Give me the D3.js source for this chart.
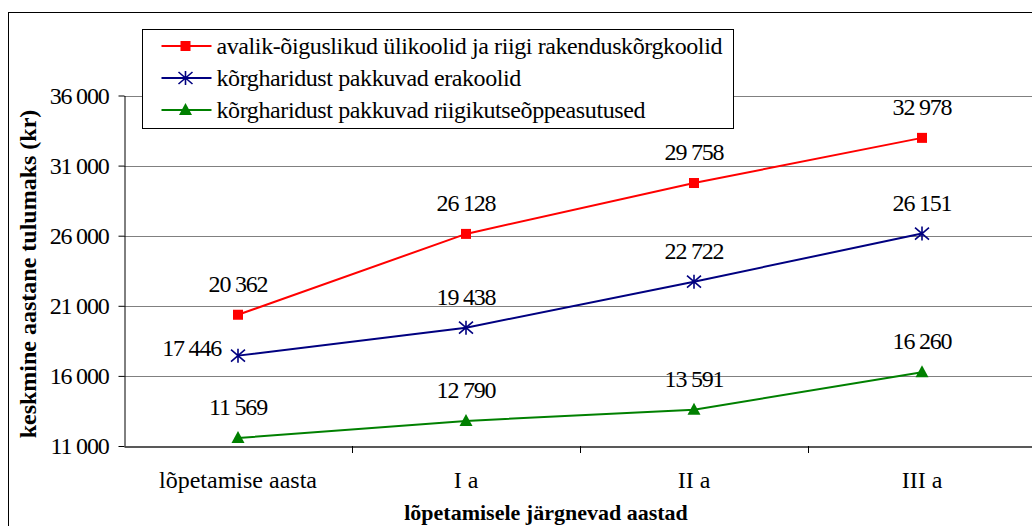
<!DOCTYPE html>
<html>
<head>
<meta charset="utf-8">
<script src="https://cdn.jsdelivr.net/npm/d3@7"></script>
<style>
  body { margin: 0; background: #fff; }
  svg { display: block; }
</style>
</head>
<body>
<svg id="chart" width="1032" height="526" font-family="Liberation Serif"></svg>
<script>
const categories = ['lõpetamise aasta', 'I a', 'II a', 'III a']
const seriesNames = [
  'avalik-õiguslikud ülikoolid ja riigi rakenduskõrgkoolid',
  'kõrgharidust pakkuvad erakoolid',
  'kõrgharidust pakkuvad riigikutseõppeasutused',
]
const publicValues = [20362, 26128, 29758, 32978]
const privateValues = [17446, 19438, 22722, 26151]
const vocationalValues = [11569, 12790, 13591, 16260]
const yTicks = [11000, 16000, 21000, 26000, 31000, 36000]

const series = [
  { name: seriesNames[0], values: publicValues, color: '#ff0000', marker: 'square' },
  { name: seriesNames[1], values: privateValues, color: '#000080', marker: 'star' },
  { name: seriesNames[2], values: vocationalValues, color: '#008000', marker: 'triangle' },
]

const FONT = 'Liberation Serif'
const svg = d3.select('#chart')
const plot = { left: 124, right: 1036, top: 95.5, bottom: 446 }

const fmt = d3.formatLocale({ decimal: ',', thousands: ' ', grouping: [3], currency: ['', ''] }).format(',d')

const x = d3.scaleBand().domain(categories).range([plot.left, plot.right])
const y = d3.scaleLinear().domain([11000, 36000]).range([plot.bottom, plot.top])

// outer chart border
svg.append('rect')
  .attr('x', 8.5).attr('y', 12.5)
  .attr('width', 1100).attr('height', 600)
  .attr('fill', 'none').attr('stroke', '#000').attr('stroke-width', 1)

// gridlines
svg.append('g')
  .selectAll('line')
  .data(yTicks.filter((t) => t > 11000))
  .join('line')
  .attr('x1', plot.left).attr('x2', plot.right)
  .attr('y1', (d) => Math.round(y(d)) + 0.5).attr('y2', (d) => Math.round(y(d)) + 0.5)
  .attr('stroke', '#808080').attr('stroke-width', 1)

// y axis
const yAxis = svg.append('g')
  .attr('transform', `translate(${plot.left + 0.5},0)`)
  .call(d3.axisLeft(y).tickValues(yTicks).tickFormat(fmt).tickSize(6).tickPadding(10).tickSizeOuter(0))
yAxis.attr('font-family', FONT).attr('font-size', 24)
yAxis.select('.domain').attr('stroke', '#000')
yAxis.selectAll('.tick line').attr('stroke', '#000')
yAxis.selectAll('text').attr('fill', '#000').attr('letter-spacing', -1.2)

// x axis
const xAxis = svg.append('g')
  .attr('transform', `translate(0,${Math.round(plot.bottom) + 0.5})`)
  .call(d3.axisBottom(x).tickSize(0).tickPadding(24))
xAxis.attr('font-family', FONT).attr('font-size', 24)
xAxis.select('.domain').attr('stroke', '#222').attr('stroke-width', 1.5)
xAxis.selectAll('text').attr('fill', '#000')

// category separator ticks
svg.append('g')
  .selectAll('line')
  .data(categories.slice(1))
  .join('line')
  .attr('x1', (d) => x(d) + 0.5).attr('x2', (d) => x(d) + 0.5)
  .attr('y1', plot.bottom).attr('y2', plot.bottom + 7)
  .attr('stroke', '#000')

// axis titles
svg.append('text')
  .attr('transform', `translate(36,274) rotate(-90)`)
  .attr('text-anchor', 'middle')
  .attr('font-family', FONT)
  .attr('font-size', 24).attr('font-weight', 'bold')
  .text('keskmine aastane tulumaks (kr)')

svg.append('text')
  .attr('x', 546).attr('y', 520)
  .attr('text-anchor', 'middle')
  .attr('font-family', FONT)
  .attr('font-size', 22).attr('font-weight', 'bold')
  .text('lõpetamisele järgnevad aastad')

const cx = (i) => x(categories[i]) + x.bandwidth() / 2

function drawMarker(g, type, color) {
  if (type === 'square') {
    g.append('rect').attr('x', -5).attr('y', -5).attr('width', 10).attr('height', 10).attr('fill', color)
  } else if (type === 'star') {
    g.append('path')
      .attr('d', 'M-7,-6L7,6M-7,6L7,-6M0,-7L0,7')
      .attr('stroke', color).attr('stroke-width', 1.6).attr('fill', 'none')
  } else {
    g.append('path').attr('d', 'M0,-7L6.5,5L-6.5,5Z').attr('fill', color)
  }
}

const line = d3.line().x((d, i) => cx(i)).y((d) => y(d))

series.forEach((s, si) => {
  svg.append('path')
    .datum(s.values)
    .attr('d', line)
    .attr('fill', 'none')
    .attr('stroke', s.color)
    .attr('stroke-width', 2)

  s.values.forEach((v, i) => {
    const g = svg.append('g').attr('transform', `translate(${cx(i)},${y(v)})`)
    drawMarker(g, s.marker, s.color)
  })

  svg.append('g')
    .selectAll('text')
    .data(s.values)
    .join('text')
    .attr('x', (d, i) => (si === 1 && i === 0 ? cx(i) - 17 : cx(i)))
    .attr('y', (d, i) => (si === 1 && i === 0 ? y(d) + 0 : y(d) - 23))
    .attr('text-anchor', (d, i) => (si === 1 && i === 0 ? 'end' : 'middle'))
    .attr('font-family', FONT)
    .attr('font-size', 24)
    .attr('letter-spacing', -1.2)
    .attr('fill', '#000')
    .text((d) => fmt(d))
})

// legend
const legend = svg.append('g').attr('transform', 'translate(142.5,29.5)')
legend.append('rect')
  .attr('width', 591).attr('height', 99)
  .attr('fill', '#fff').attr('stroke', '#000')
series.forEach((s, i) => {
  const row = legend.append('g').attr('transform', `translate(0,${16.5 + i * 32})`)
  row.append('line').attr('x1', 19).attr('x2', 69).attr('stroke', s.color).attr('stroke-width', 2)
  drawMarker(row.append('g').attr('transform', 'translate(43,0)'), s.marker, s.color)
  row.append('text')
    .attr('x', 74).attr('y', 8)
    .attr('font-family', FONT)
    .attr('font-size', 24)
    .attr('letter-spacing', -0.4)
    .attr('fill', '#000')
    .text(s.name)
})
</script>
</body>
</html>
